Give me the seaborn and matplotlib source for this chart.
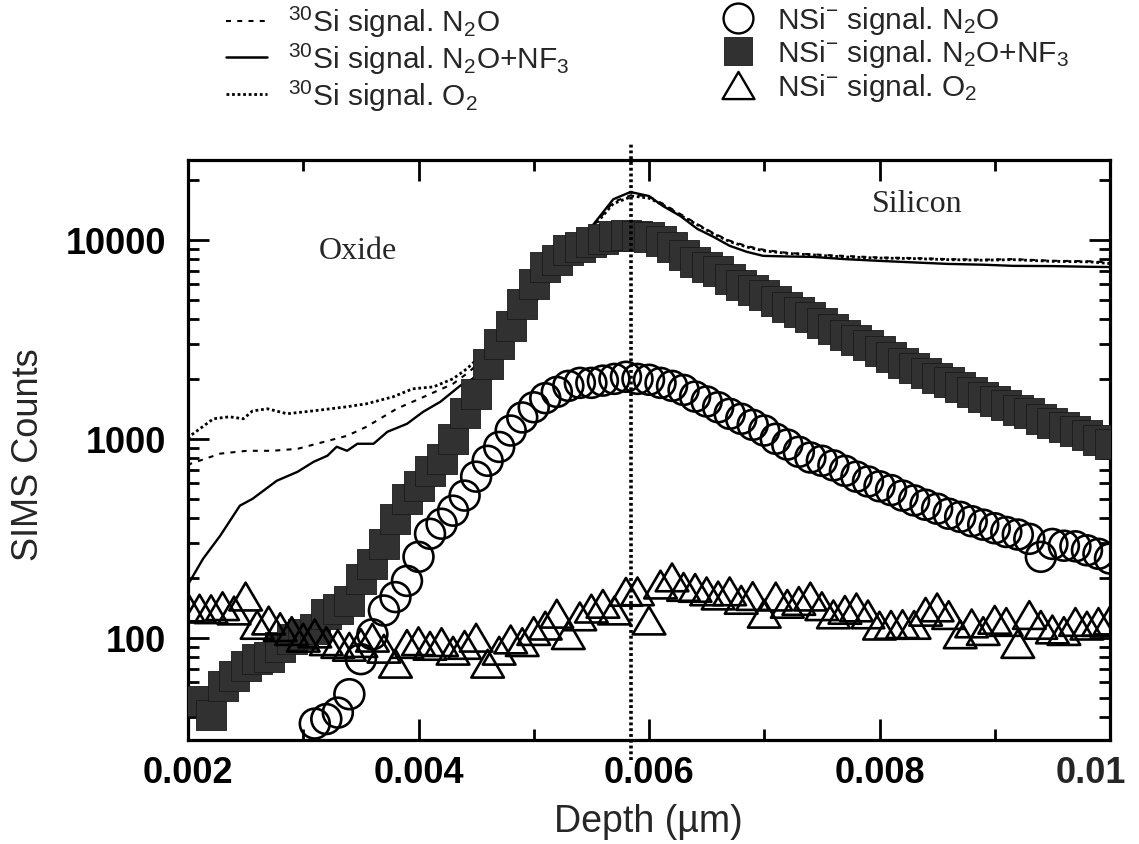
import numpy as np
import pandas as pd
import matplotlib
matplotlib.use("Agg")
import matplotlib.pyplot as plt
import seaborn as sns
from matplotlib.lines import Line2D
from matplotlib.path import Path
from matplotlib.markers import MarkerStyle
from matplotlib.ticker import FixedLocator, FixedFormatter, LogLocator, NullFormatter

# ---------------- data ----------------
# 30Si signal, N2O+NF3 (solid line)
si30_nf3_depth = [0.00200, 0.00213, 0.00228, 0.00245, 0.00256, 0.00277, 0.00295, 0.00309, 0.00321, 0.00329,
                  0.00338, 0.00347, 0.00361, 0.00373, 0.00390, 0.00404, 0.00419, 0.00436, 0.00447, 0.00460,
                  0.00475, 0.00490, 0.00505, 0.00520, 0.00535, 0.00551, 0.00569, 0.00584, 0.00600, 0.00612,
                  0.00627, 0.00642, 0.00656, 0.00670, 0.00685, 0.00699, 0.00720, 0.00742, 0.00770, 0.00800,
                  0.00830, 0.00859, 0.00890, 0.00916, 0.00950, 0.00983, 0.01000]
si30_nf3_counts = [185, 249, 326, 461, 499, 615, 682, 766, 822, 912,
                   870, 944, 944, 1084, 1189, 1366, 1535, 1845, 2003, 2400,
                   3000, 3900, 5200, 7000, 9000, 11800, 16000, 17400, 16600, 14800,
                   13200, 11350, 10350, 9330, 8700, 8310, 8250, 8210, 8000, 7840,
                   7700, 7570, 7500, 7400, 7380, 7320, 7300]

# 30Si signal, O2 (dense dotted line)
si30_o2_depth = [0.00200, 0.00202, 0.00222, 0.00236, 0.00248, 0.00256, 0.00269, 0.00286, 0.00309, 0.00338,
                 0.00355, 0.00378, 0.00395, 0.00413, 0.00430, 0.00442, 0.00453, 0.00459, 0.00475, 0.00490,
                 0.00505, 0.00520, 0.00535, 0.00551, 0.00569, 0.00586, 0.00600, 0.00612, 0.00627, 0.00642,
                 0.00656, 0.00670, 0.00685, 0.00700, 0.00720, 0.00742, 0.00770, 0.00800, 0.00830, 0.00860,
                 0.00890, 0.00916, 0.00950, 0.00983, 0.01000]
si30_o2_counts = [1000, 1035, 1260, 1290, 1260, 1380, 1415, 1336, 1382, 1449,
                  1500, 1626, 1783, 1824, 2003, 2248, 2582, 2836, 3300, 4100,
                  5300, 7000, 9000, 11500, 15200, 16600, 16200, 15000, 13300, 11900,
                  10700, 9800, 9200, 8800, 8550, 8400, 8200, 8100, 8050, 7950,
                  7900, 7950, 7800, 7750, 7600]

# 30Si signal, N2O (short-dash line)
si30_n2o_depth = [0.00200, 0.00202, 0.00228, 0.00251, 0.00273, 0.00295, 0.00318, 0.00338, 0.00355, 0.00381,
                  0.00401, 0.00430, 0.00444, 0.00460, 0.00475, 0.00490, 0.00505, 0.00520, 0.00535, 0.00551,
                  0.00569, 0.00586, 0.00600, 0.00612, 0.00627, 0.00642, 0.00656, 0.00670, 0.00685, 0.00700,
                  0.00720, 0.00742, 0.00770, 0.00800, 0.00830, 0.00860, 0.00890, 0.00916, 0.00950, 0.00983,
                  0.01000]
si30_n2o_counts = [730, 748, 842, 870, 870, 890, 965, 1035, 1150, 1415,
                   1590, 1890, 2170, 2650, 3250, 4000, 5200, 7000, 9000, 11600,
                   15500, 16900, 16500, 15200, 13500, 12000, 10800, 9900, 9300, 8900,
                   8600, 8450, 8300, 8150, 8100, 8000, 7950, 8000, 7850, 7800,
                   7700]

# NSi- signal, N2O+NF3 (filled squares), depth 0.0021 .. 0.0100 step 0.0001
nsi_nf3_depth = np.round(np.linspace(0.0021, 0.0100, 80), 5)
nsi_nf3_counts = [48, 41, 57, 64, 72, 78, 80, 90, 99, 104,
                  111, 132, 140, 153, 198, 236, 297, 396, 499, 580,
                  690, 793, 1000, 1340, 1680, 2390, 3000, 3700, 4770, 6010,
                  7320, 7930, 8920, 9220, 9770, 10100, 10500, 10600, 10500, 10350,
                  9900, 9200, 8400, 7750, 7320, 6990, 6370, 5940, 5610, 5300,
                  4940, 4610, 4350, 4110, 3830, 3570, 3330, 3140, 2970, 2770,
                  2580, 2410, 2270, 2140, 2020, 1930, 1820, 1720, 1620, 1550,
                  1480, 1400, 1340, 1260, 1200, 1150, 1100, 1050, 990, 940]

# NSi- signal, N2O (open circles), depth 0.0031 .. 0.0100 step 0.0001
nsi_n2o_depth = np.round(np.linspace(0.0031, 0.0100, 70), 5)
nsi_n2o_counts = [37, 39, 42, 52, 78, 104, 137, 160, 193, 255,
                  333, 374, 435, 518, 645, 775, 910, 1100, 1280, 1440,
                  1600, 1720, 1845, 1910, 1910, 1960, 2000, 2050, 2000, 1980,
                  1910, 1845, 1760, 1630, 1540, 1440, 1335, 1260, 1175, 1100,
                  1000, 935, 860, 805, 775, 735, 690, 645, 610, 577,
                  552, 518, 490, 466, 445, 420, 405, 385, 370, 355,
                  340, 330, 314, 255, 296, 290, 288, 275, 264, 250]

# NSi- signal, O2 (open triangles), depth 0.0020 .. 0.0100 step 0.0001
nsi_o2_depth = np.round(np.linspace(0.0020, 0.0100, 81), 5)
nsi_o2_counts = [142, 140, 139, 144, 137, 161, 116, 122, 113, 108,
                 100, 105, 96, 93, 90, 94, 100, 88, 74, 93,
                 96, 91, 95, 86, 92, 100, 74, 86, 98, 95,
                 108, 115, 132, 103, 128, 140, 148, 137, 170, 171,
                 122, 185, 201, 180, 178, 171, 163, 171, 155, 162,
                 132, 161, 148, 153, 161, 144, 131, 138, 142, 131,
                 115, 116, 117, 116, 135, 142, 130, 104, 118, 108,
                 123, 120, 93, 130, 116, 110, 108, 120, 115, 120,
                 122]

interface_depth = 0.00584

x_ticks = [0.002, 0.004, 0.006, 0.008, 0.010]
x_tick_labels = ["0.002", "0.004", "0.006", "0.008", "0.01"]
x_minor_ticks = [0.003, 0.005, 0.007, 0.009]
y_ticks = [100, 1000, 10000]
y_tick_labels = ["100", "1000", "10000"]

line_labels = [r"$^{30}$Si signal. N$_2$O",
               r"$^{30}$Si signal. N$_2$O+NF$_3$",
               r"$^{30}$Si signal. O$_2$"]
marker_labels = [r"NSi$^{-}$ signal. N$_2$O",
                 r"NSi$^{-}$ signal. N$_2$O+NF$_3$",
                 r"NSi$^{-}$ signal. O$_2$"]

# ---------------- style ----------------
sns.set_theme(style="ticks")
plt.rcParams["font.family"] = ["Liberation Sans", "DejaVu Sans"]
plt.rcParams["mathtext.fontset"] = "custom"
plt.rcParams["mathtext.rm"] = "Liberation Sans"
plt.rcParams["mathtext.it"] = "Liberation Sans:italic"
plt.rcParams["mathtext.bf"] = "Liberation Sans:bold"

W, H = 1139, 845
fig = plt.figure(figsize=(W / 100, H / 100), dpi=100, facecolor="white")
ax = fig.add_axes([188 / W, 1 - 741 / H, 922 / W, 580 / H])
ax.set_facecolor("white")

dash_n2o = (0, (2.4, 3.0))
dot_o2 = (0, (1.0, 1.0))
sq_color = "#313131"
tri_marker = MarkerStyle(Path([(0, 0.85), (-1, -0.85), (1, -0.85), (0, 0.85)],
                              [Path.MOVETO, Path.LINETO, Path.LINETO, Path.CLOSEPOLY]))

# lines
sns.lineplot(x=si30_n2o_depth, y=si30_n2o_counts, ax=ax, color="black", lw=1.5,
             linestyle=dash_n2o, estimator=None, sort=False, zorder=2)
sns.lineplot(x=si30_nf3_depth, y=si30_nf3_counts, ax=ax, color="black", lw=1.7,
             estimator=None, sort=False, zorder=2)
sns.lineplot(x=si30_o2_depth, y=si30_o2_counts, ax=ax, color="black", lw=2.0,
             linestyle=dot_o2, estimator=None, sort=False, zorder=2)

# markers
sns.scatterplot(x=nsi_nf3_depth, y=nsi_nf3_counts, ax=ax, marker="s", s=21 ** 2,
                facecolor=sq_color, edgecolor="#1a1a1a", linewidth=0.6, zorder=3)
sns.scatterplot(x=nsi_n2o_depth, y=nsi_n2o_counts, ax=ax, marker="o", s=21.5 ** 2,
                facecolor="none", edgecolor="black", linewidth=1.9, zorder=4)
sns.scatterplot(x=nsi_o2_depth, y=nsi_o2_counts, ax=ax, marker=tri_marker, s=23.5 ** 2,
                facecolor="none", edgecolor="black", linewidth=1.9, zorder=4)

# interface
ax.axvline(interface_depth, ymin=-0.035, ymax=1.03, color="black", lw=2.6,
           linestyle=(0, (0.8, 0.8)), clip_on=False, zorder=5)

# axes
ax.set_xlim(0.002, 0.010)
ax.set_yscale("log")
ax.set_ylim(30.6, 25200)
ax.xaxis.set_major_locator(FixedLocator(x_ticks))
ax.xaxis.set_major_formatter(FixedFormatter(x_tick_labels[:-1] + [""]))
ax.xaxis.set_minor_locator(FixedLocator(x_minor_ticks))
ax.yaxis.set_major_locator(FixedLocator(y_ticks))
ax.yaxis.set_major_formatter(FixedFormatter(y_tick_labels))
ax.yaxis.set_minor_locator(LogLocator(base=10, subs=np.arange(2, 10), numticks=20))
ax.yaxis.set_minor_formatter(NullFormatter())
ax.tick_params(which="both", direction="in", top=True, right=True, colors="black", width=2)
ax.tick_params(which="major", length=15)
ax.tick_params(which="minor", length=8)
ax.tick_params(axis="x", which="major", pad=11, labelsize=26)
ax.tick_params(axis="y", which="major", pad=16, labelsize=26)
for lab in ax.get_xticklabels() + ax.get_yticklabels():
    lab.set_fontweight("bold")
for sp in ax.spines.values():
    sp.set_linewidth(2.3)
    sp.set_color("black")
ax.set_xlabel("")
ax.set_ylabel("")

# last x tick label sits slightly left of its tick (as in the original figure)
ax.annotate(x_tick_labels[-1], xy=(x_ticks[-1], 0), xycoords=("data", "axes fraction"),
            xytext=(-13.5, -11), textcoords="offset points", ha="center", va="top",
            fontsize=26, fontweight="bold", annotation_clip=False)

fig.text(29 / W, 1 - 455 / H, "SIMS Counts", rotation=90, ha="center", va="center", fontsize=26)
fig.text(648 / W, 1 - 832 / H, "Depth (\u00b5m)", ha="center", va="baseline", fontsize=27)

ax.text(0.00347, 8800, "Oxide", ha="center", va="center", family="Liberation Serif", fontsize=23)
ax.text(0.008325, 15170, "Silicon", ha="center", va="center", family="Liberation Serif", fontsize=23)

# legends
line_handles = [Line2D([], [], color="black", lw=1.5, linestyle=dash_n2o),
                Line2D([], [], color="black", lw=1.8),
                Line2D([], [], color="black", lw=2.0, linestyle=dot_o2)]
leg1 = fig.legend(line_handles, line_labels, loc="upper left", bbox_to_anchor=(226 / W, 1 - 5 / H),
                  frameon=False, borderaxespad=0, borderpad=0, handlelength=1.37,
                  handletextpad=0.7, labelspacing=0.05, prop={"size": 21.5})
marker_handles = [Line2D([], [], ls="", marker="o", ms=21.5, mfc="none", mec="black", mew=1.7),
                  Line2D([], [], ls="", marker="s", ms=20, mfc=sq_color, mec="#1a1a1a", mew=0.6),
                  Line2D([], [], ls="", marker=tri_marker, ms=23, mfc="none", mec="black", mew=1.7)]
leg2 = fig.legend(marker_handles, marker_labels, loc="upper left", bbox_to_anchor=(723 / W, 1 - 5 / H),
                  frameon=False, borderaxespad=0, borderpad=0, handlelength=1.0,
                  handletextpad=0.8, labelspacing=0.05, prop={"size": 21.5})

fig.savefig("out.png", dpi=100, facecolor="white")
